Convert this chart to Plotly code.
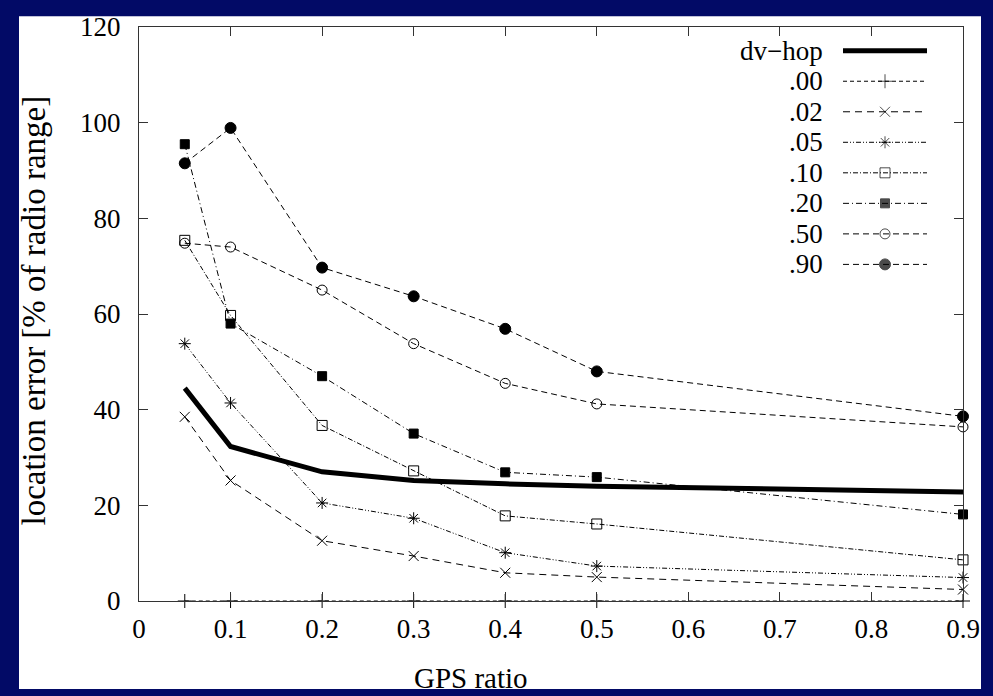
import plotly.graph_objects as go

# ---------------- data ----------------
gps_ratio = [0.05, 0.1, 0.2, 0.3, 0.4, 0.5, 0.9]
dv_hop = [44.5, 32.3, 27.0, 25.2, 24.5, 24.0, 22.8]
err_00 = [0, 0, 0, 0, 0, 0, 0]
err_02 = [38.5, 25.2, 12.6, 9.4, 5.9, 5.0, 2.4]
err_05 = [53.8, 41.4, 20.5, 17.3, 10.1, 7.3, 4.9]
err_10 = [75.4, 59.7, 36.7, 27.2, 17.8, 16.1, 8.6]
err_20 = [95.5, 58.0, 47.0, 35.0, 26.9, 25.9, 18.1]
err_50 = [74.8, 74.0, 65.0, 53.8, 45.5, 41.2, 36.4]
err_90 = [91.5, 98.9, 69.7, 63.7, 56.9, 48.0, 38.6]

series_names = ["dv\u2212hop", ".00", ".02", ".05", ".10", ".20", ".50", ".90"]
series_values = [dv_hop, err_00, err_02, err_05, err_10, err_20, err_50, err_90]
x_ticks = [0, 0.1, 0.2, 0.3, 0.4, 0.5, 0.6, 0.7, 0.8, 0.9]
y_ticks = [0, 20, 40, 60, 80, 100, 120]

# ---------------- styles ----------------
FONT = "Liberation Serif"
NAVY = "#020a66"
styles = [
    dict(dash="solid", width=5, symbol=None, msize=0),
    dict(dash="4px,3px", width=1, symbol="cross-thin-open", msize=10),
    dict(dash="7px,5px", width=1, symbol="x-thin-open", msize=10),
    dict(dash="5px,2px,1px,2px,1px,2px", width=1, symbol="asterisk-open", msize=10),
    dict(dash="5px,2px,1px,2px", width=1, symbol="square-open", msize=10),
    dict(dash="6px,3px,1px,3px", width=1, symbol="square", msize=9),
    dict(dash="6px,4px", width=1, symbol="circle-open", msize=10),
    dict(dash="6px,4px", width=1, symbol="circle", msize=11),
]

W, H = 993, 696
ML, MR, MT, MB = 139, 30, 20, 95
PW, PH = W - ML - MR, H - MT - MB


def px_x(px):
    return (px - ML) / PW


def px_y(py):
    return (H - MB - py) / PH


fig = go.Figure()

for name, vals, st in zip(series_names, series_values, styles):
    mode = "lines" if st["symbol"] is None else "lines+markers"
    tr = dict(
        x=gps_ratio, y=vals, mode=mode, name=name, showlegend=False,
        line=dict(color="black", width=st["width"], dash=st["dash"]),
        cliponaxis=False,
    )
    if st["symbol"] is not None:
        tr["marker"] = dict(symbol=st["symbol"], size=st["msize"], color="black",
                            line=dict(color="black", width=1))
    fig.add_trace(go.Scatter(**tr))

# ---------------- custom legend (text left, sample right) ----------------
LEG_TEXT_RIGHT = 825
LEG_LINE_X0, LEG_LINE_X1 = 843, 927
LEG_ROW0, LEG_STEP = 44, 30.9
annotations = []
for i, (name, st) in enumerate(zip(series_names, styles)):
    py = LEG_ROW0 + i * LEG_STEP
    yy = px_y(py)
    xs = [px_x(LEG_LINE_X0), px_x((LEG_LINE_X0 + LEG_LINE_X1) / 2), px_x(LEG_LINE_X1)]
    if st["symbol"] is None:
        fig.add_trace(go.Scatter(
            x=[xs[0], xs[2]], y=[yy, yy], mode="lines", showlegend=False,
            line=dict(color="black", width=st["width"]), xaxis="x2", yaxis="y2",
            hoverinfo="skip"))
    else:
        fig.add_trace(go.Scatter(
            x=xs, y=[yy] * 3, mode="lines+markers", showlegend=False,
            line=dict(color="black", width=st["width"], dash=st["dash"]),
            marker=dict(symbol=st["symbol"], size=[0, st["msize"], 0], color="black",
                        line=dict(color="black", width=1)),
            xaxis="x2", yaxis="y2", hoverinfo="skip"))
    annotations.append(dict(
        x=px_x(LEG_TEXT_RIGHT), y=yy, xref="paper", yref="paper", text=name,
        showarrow=False, xanchor="right", yanchor="middle",
        font=dict(family=FONT, size=27, color="black")))

# axis titles
annotations.append(dict(
    x=px_x(471), y=px_y(679), xref="paper", yref="paper", text="GPS ratio",
    showarrow=False, xanchor="center", yanchor="middle",
    font=dict(family=FONT, size=29, color="black")))
annotations.append(dict(
    x=px_x(34), y=px_y(307), xref="paper", yref="paper",
    text="location error [% of radio range]", textangle=-90,
    showarrow=False, xanchor="center", yanchor="middle",
    font=dict(family=FONT, size=33, color="black")))

# white card on navy background
shapes = [dict(type="rect", xref="paper", yref="paper", layer="below",
               x0=px_x(19), x1=px_x(981), y0=px_y(690), y1=px_y(9),
               fillcolor="white", line=dict(width=0))]

axis_common = dict(
    showgrid=False, zeroline=False, showline=True, linecolor="#333", linewidth=1,
    mirror="ticks", ticks="inside", ticklen=9, tickcolor="#333", tickwidth=1,
    tickfont=dict(family=FONT, size=27, color="black"),
)

fig.update_layout(
    width=W, height=H,
    margin=dict(l=ML, r=MR, t=MT, b=MB),
    paper_bgcolor=NAVY, plot_bgcolor="white",
    xaxis=dict(range=[0, 0.9], tickvals=x_ticks,
               ticktext=[("%g" % v) for v in x_ticks], ticklabelstandoff=4,
               **axis_common),
    yaxis=dict(range=[0, 120], tickvals=y_ticks, ticklabelstandoff=12,
               **axis_common),
    xaxis2=dict(overlaying="x", range=[0, 1], visible=False, anchor="y2"),
    yaxis2=dict(overlaying="y", range=[0, 1], visible=False, anchor="x2"),
    annotations=annotations,
    shapes=shapes,
    showlegend=False,
)

fig.write_html("out.html")
